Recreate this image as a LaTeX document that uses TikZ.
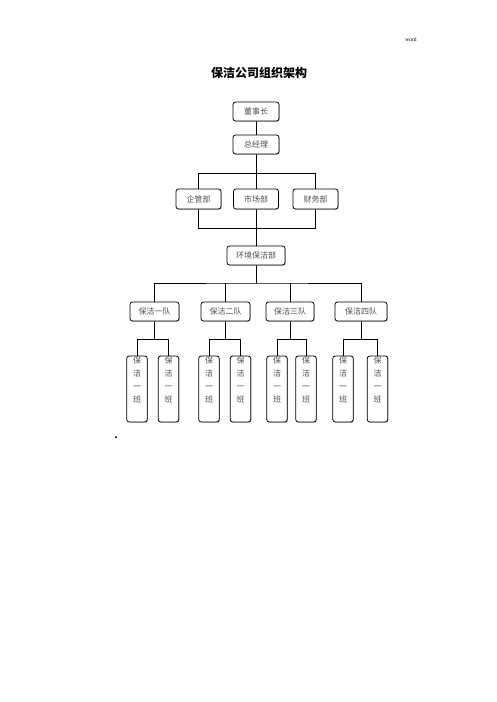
\documentclass[tikz,border=0pt]{standalone}
\usepackage{fontspec}
\setmainfont{Liberation Serif}
\newfontfamily\cjk{Noto Sans CJK SC}
\usetikzlibrary{backgrounds,shadows,calc}
\definecolor{txtgray}{RGB}{80,80,80}
\tikzset{
  box/.style={draw=black, line width=0.8pt, rounded corners=2.5pt, fill=white,
    font=\cjk\fontsize{8}{9}\selectfont, text=txtgray, inner sep=0pt,
    drop shadow={shadow xshift=0.6pt, shadow yshift=-0.6pt, fill=black!45, opacity=0.8}},
  vbox/.style={box, minimum width=20.5pt, minimum height=66pt, align=center,
    font=\cjk\fontsize{8}{13}\selectfont},
  conn/.style={line width=0.8pt, draw=black}
}
\begin{document}
\begin{tikzpicture}[x=1pt,y=-1pt]
\useasboundingbox (0,0) rectangle (496,702);
\node[font=\fontsize{5.5}{6}\selectfont] (hdr) at (411,40) {word};
\node[font=\cjk\bfseries\fontsize{12}{14}\selectfont] (title) at (259,73) {保洁公司组织架构};
\node[box, minimum width=46pt, minimum height=19pt] (dsz) at (256,111.5) {董事长};
\node[box, minimum width=46pt, minimum height=19pt] (zjl) at (256,144.5) {总经理};
\node[box, minimum width=45pt, minimum height=20pt] (qg) at (198.5,199) {企管部};
\node[box, minimum width=45pt, minimum height=20pt] (sc) at (256,199) {市场部};
\node[box, minimum width=45pt, minimum height=20pt] (cw) at (315.5,199) {财务部};
\node[box, minimum width=58pt, minimum height=19pt] (hj) at (256,255.5) {环境保洁部};
\node[box, minimum width=49pt, minimum height=19pt] (d1) at (154.5,311.5) {保洁一队};
\node[box, minimum width=49pt, minimum height=19pt] (d2) at (225.5,311.5) {保洁二队};
\node[box, minimum width=48pt, minimum height=19pt] (d3) at (290,311.5) {保洁三队};
\node[box, minimum width=52pt, minimum height=19pt] (d4) at (361,311.5) {保洁四队};
\foreach \n/\x in {b11/137,b12/168.5,b21/209,b22/240.5,b31/277,b32/306,b41/343,b42/377.5}{
  \node[vbox] (\n) at (\x,389) {保\\洁\\一\\班\\[5pt]};
}
\node[font=\bfseries\fontsize{12}{12}\selectfont] (dot) at (116,438) {.};
\coordinate (t) at (256,173);
\coordinate (b) at (256,228);
\coordinate (h2) at (256,283);
\begin{scope}[on background layer]
  \draw[conn] (dsz.south) -- (zjl.north);
  \draw[conn] (zjl.south) -- (sc.north);
  \draw[conn] (sc.south) -- (hj.north);
  \draw[conn] (qg.center |- t) rectangle (cw.center |- b);
  \draw[conn] (hj.south) -- (hj.south |- h2);
  \draw[conn] (d1.north) |- (h2) -| (d4.north);
  \draw[conn] (d2.north) -- (d2.north |- h2);
  \draw[conn] (d3.north) -- (d3.north |- h2);
  \foreach \d/\l/\r in {d1/b11/b12,d2/b21/b22,d3/b31/b32,d4/b41/b42}{
    \coordinate (m\d) at ($(\d.south)+(0,18)$);
    \draw[conn] (\d.south) -- (m\d);
    \draw[conn] (\l.north) |- (m\d) -| (\r.north);
  }
\end{scope}
\end{tikzpicture}
\end{document}
